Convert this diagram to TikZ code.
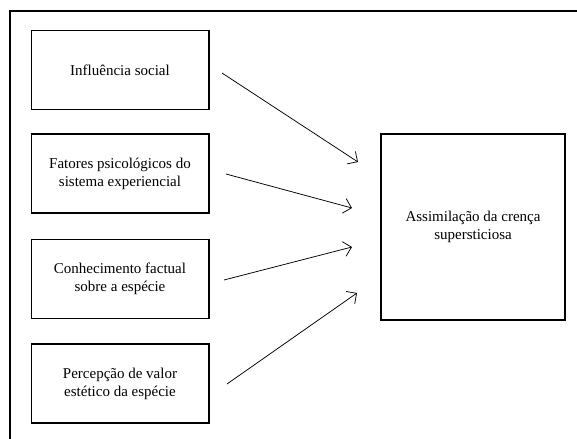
\documentclass[tikz,border=0pt]{standalone}
\usepackage{fontspec}
\setmainfont{Liberation Serif}
\usetikzlibrary{arrows.meta}

\tikzset{
    factor/.style={draw, line width=1.2pt, minimum width=142pt, minimum height=63pt,
        align=center, inner sep=2pt, font=\fontsize{12}{14.5}\selectfont},
    result/.style={factor, minimum width=147pt, minimum height=149pt},
    link/.style={-{Straight Barb[length=6pt, width=12pt]}, line width=0.6pt}
}

\begin{document}
\begin{tikzpicture}[x=0.8pt, y=-0.8pt]
    \useasboundingbox (0,0) rectangle (577,439);

    % Outer frame (cut off at right and bottom)
    \draw[line width=1.4pt] (10,439) -- (10,11) -- (577,11);

    % Factor boxes
    \node[factor] (social) at (120,70) {Influência social};
    \node[factor] (psych) at (120,173.5) {Fatores psicológicos do\\sistema experiencial};
    \node[factor] (know) at (120,279) {Conhecimento factual\\sobre a espécie};
    \node[factor] (aesth) at (120,383.5) {Percepção de valor\\estético da espécie};

    % Outcome box
    \node[result] (belief) at (473,227) {Assimilação da crença\\supersticiosa};

    % Arrow ends
    \coordinate (s1) at (222,73);
    \coordinate (e1) at (358,162);
    \coordinate (s2) at (226,174);
    \coordinate (e2) at (352,208);
    \coordinate (s3) at (224,280);
    \coordinate (e3) at (352,247);
    \coordinate (s4) at (227,384);
    \coordinate (e4) at (357,293);

    % Arrows
    \draw[link] (s1) -- (e1);
    \draw[link] (s2) -- (e2);
    \draw[link] (s3) -- (e3);
    \draw[link] (s4) -- (e4);
\end{tikzpicture}
\end{document}
